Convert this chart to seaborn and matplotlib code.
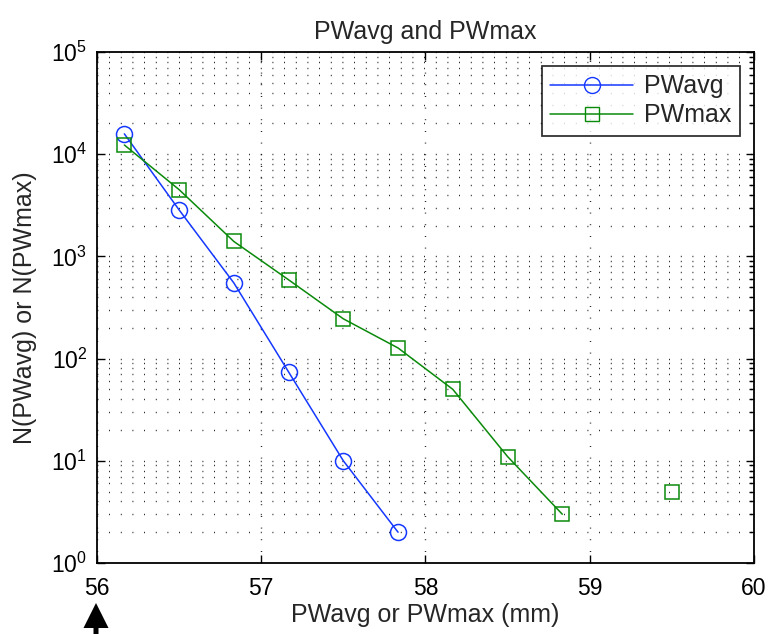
import numpy as np
import pandas as pd
import matplotlib
matplotlib.use("Agg")
import matplotlib.pyplot as plt
from matplotlib.lines import Line2D
from matplotlib.patches import FancyArrow
from matplotlib.ticker import LogLocator, FixedLocator, NullFormatter
import seaborn as sns

# Bin centres (mm) and counts per bin
pw_avg_x = [56.1667, 56.5, 56.8333, 57.1667, 57.5, 57.8333]
pw_avg_n = [15800, 2850, 550, 74, 10, 2]

pw_max_x = [56.1667, 56.5, 56.8333, 57.1667, 57.5, 57.8333, 58.1667, 58.5, 58.8333, 59.5]
pw_max_n = [12300, 4500, 1400, 590, 245, 127, 50, 11, 3, 5]
# contiguous runs of non-empty bins (the bin at 59.17 mm is empty)
pw_max_seg = [0, 0, 0, 0, 0, 0, 0, 0, 0, 1]

x_ticks = [56, 57, 58, 59, 60]
series_names = ["PWavg", "PWmax"]

sns.set_theme(style="white")
plt.rcParams["font.family"] = ["Liberation Sans", "DejaVu Sans"]
plt.rcParams["mathtext.default"] = "regular"

BLUE = "#1438ff"
GREEN = "#0a8a0a"

fig = plt.figure(figsize=(7.71, 6.34), dpi=100)
ax = fig.add_axes([0.1258, 0.112, 0.852, 0.806])

avg_df = pd.DataFrame({"x": pw_avg_x, "n": pw_avg_n})
max_df = pd.DataFrame({"x": pw_max_x, "n": pw_max_n, "seg": pw_max_seg})

sns.lineplot(data=avg_df, x="x", y="n", ax=ax, color=BLUE, lw=1.1,
             marker="o", markersize=11.5, markerfacecolor="none",
             markeredgecolor=BLUE, markeredgewidth=1.1, estimator=None)
sns.lineplot(data=max_df, x="x", y="n", units="seg", estimator=None, ax=ax,
             color=GREEN, lw=1.1, marker="s", markersize=9.5,
             markerfacecolor="none", markeredgecolor=GREEN, markeredgewidth=1.1)

ax.set_yscale("log")
ax.set_xlim(56, 60)
ax.set_ylim(1, 1e5)
ax.xaxis.set_major_locator(FixedLocator(x_ticks))
ax.yaxis.set_major_locator(LogLocator(base=10, numticks=10))
ax.yaxis.set_minor_locator(LogLocator(base=10, subs=np.arange(2, 10), numticks=20))
ax.yaxis.set_minor_formatter(NullFormatter())

dot = (0, (0.6, 7.8))
ax.grid(True, which="major", axis="x", color="black", lw=1.0, linestyle=dot)
ax.grid(True, which="both", axis="y", color="black", lw=1.0, linestyle=dot)
ax.set_axisbelow(True)

for s in ax.spines.values():
    s.set_color("black")
    s.set_linewidth(1.3)
ax.tick_params(which="both", direction="in", top=True, right=True,
               colors="black", labelsize=16.5, width=1.0)
ax.tick_params(which="major", length=6)
ax.tick_params(axis="x", which="major", pad=10)
ax.tick_params(axis="y", which="major", pad=7)
ax.tick_params(which="minor", length=3.5)
ax.tick_params(axis="x", bottom=True)
ax.tick_params(axis="y", left=True)

ax.set_title("PWavg and PWmax", fontsize=18, pad=9)
ax.set_xlabel("PWavg or PWmax (mm)", fontsize=18, labelpad=2)
ax.set_ylabel("N(PWavg) or N(PWmax)", fontsize=18, labelpad=10)

handles = [
    Line2D([], [], color=BLUE, lw=1.1, marker="o", markersize=11.5,
           markerfacecolor="none", markeredgecolor=BLUE),
    Line2D([], [], color=GREEN, lw=1.1, marker="s", markersize=9.5,
           markerfacecolor="none", markeredgecolor=GREEN),
]
leg = ax.legend(handles, series_names, loc="upper right", fontsize=18,
                frameon=True, fancybox=False, edgecolor="black",
                handlelength=3.3, borderaxespad=0.55, labelspacing=0.2,
                handletextpad=0.45, borderpad=0.35)
leg.get_frame().set_linewidth(1.3)

# upward arrow marking 56 mm under the axis
fig.add_artist(FancyArrow(0.96, -0.05, 0, 0.36, width=0.05, head_width=0.25,
                          head_length=0.25, length_includes_head=True,
                          transform=fig.dpi_scale_trans, color="black", lw=0))

fig.savefig("out.png", dpi=100, facecolor="white")
